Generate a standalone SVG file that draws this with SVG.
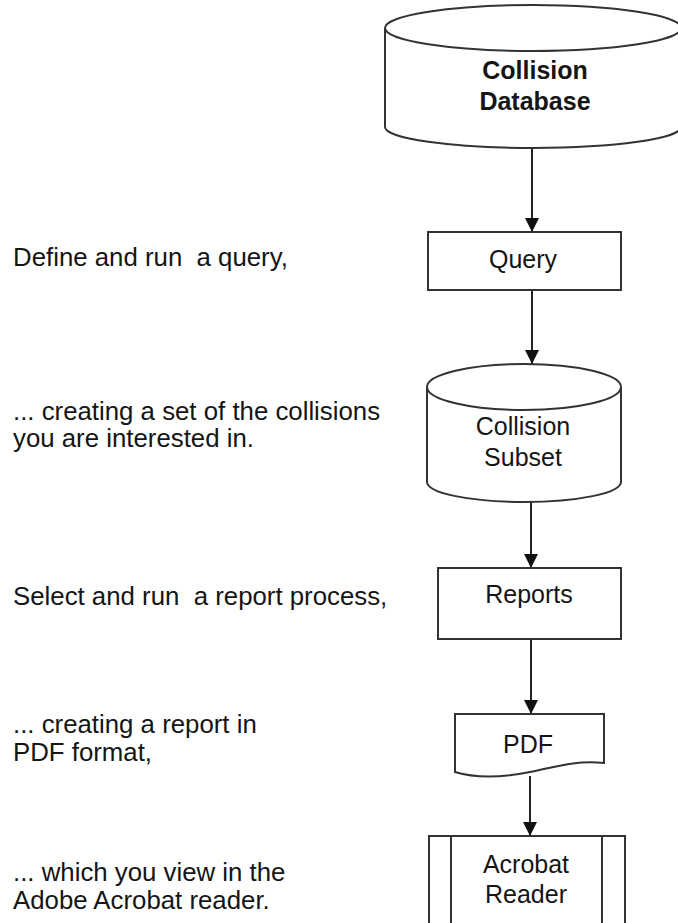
<svg xmlns="http://www.w3.org/2000/svg" width="678" height="923" viewBox="0 0 678 923">
  <style>
    .shape { fill: #ffffff; stroke: #333333; stroke-width: 2; }
    .edge { fill: none; stroke: #222222; stroke-width: 2; }
    .lbl { font-family: "Liberation Sans", Arial, sans-serif; font-size: 25px; fill: #151515; }
    .note { font-size: 25.8px; }
    .mid { text-anchor: middle; }
    .bold { font-weight: bold; }
  </style>
  <defs>
    <marker id="arrow" viewBox="0 0 14 15" refX="14" refY="7" markerWidth="14" markerHeight="15" markerUnits="userSpaceOnUse" orient="auto">
      <path d="M0,0 L14,7 L0,14 Z" fill="#111111"/>
    </marker>
  </defs>
  <rect width="678" height="923" fill="#ffffff"/>

  <!-- step descriptions -->
  <g id="notes" class="lbl note">
    <text x="13" y="266" xml:space="preserve">Define and run  a query,</text>
    <text x="13" y="420">... creating a set of the collisions</text>
    <text x="13" y="447">you are interested in.</text>
    <text x="13" y="605" xml:space="preserve">Select and run  a report process,</text>
    <text x="13" y="733">... creating a report in</text>
    <text x="13" y="761">PDF format,</text>
    <text x="13" y="881">... which you view in the</text>
    <text x="13" y="909">Adobe Acrobat reader.</text>
  </g>

  <!-- connectors -->
  <g id="connectors">
    <line class="edge" x1="532" y1="148" x2="532" y2="232" marker-end="url(#arrow)"/>
    <line class="edge" x1="532" y1="290" x2="532" y2="364" marker-end="url(#arrow)"/>
    <line class="edge" x1="531" y1="502" x2="531" y2="568" marker-end="url(#arrow)"/>
    <line class="edge" x1="531" y1="639" x2="531" y2="714" marker-end="url(#arrow)"/>
    <line class="edge" x1="530" y1="776" x2="530" y2="836" marker-end="url(#arrow)"/>
  </g>

  <!-- main database -->
  <g id="collision-database">
    <path class="shape" d="M385,28 V127 A148,21 0 0 0 681,127 V28"/>
    <ellipse class="shape" cx="533" cy="28" rx="148" ry="23"/>
    <text class="lbl mid bold" x="535" y="79">Collision</text>
    <text class="lbl mid bold" x="535" y="110">Database</text>
  </g>

  <!-- query process -->
  <g id="query">
    <rect class="shape" x="428" y="232" width="193" height="58"/>
    <text class="lbl mid" x="523" y="268">Query</text>
  </g>

  <!-- query result store -->
  <g id="collision-subset">
    <path class="shape" d="M427,387 V482 A97,20 0 0 0 621,482 V387"/>
    <ellipse class="shape" cx="524" cy="387" rx="97" ry="23"/>
    <text class="lbl mid" x="523" y="435">Collision</text>
    <text class="lbl mid" x="523" y="466">Subset</text>
  </g>

  <!-- report process -->
  <g id="reports">
    <rect class="shape" x="438" y="568" width="183" height="71"/>
    <text class="lbl mid" x="529" y="603">Reports</text>
  </g>

  <!-- generated document -->
  <g id="pdf">
    <path class="shape" d="M455,714 H604 V763 C575,760 555,767 530,772 C505,777 478,779 455,772 Z"/>
    <text class="lbl mid" x="528" y="753">PDF</text>
  </g>

  <!-- viewer (predefined process) -->
  <g id="acrobat-reader">
    <rect class="shape" x="429" y="836" width="196" height="100"/>
    <line class="shape" x1="451" y1="836" x2="451" y2="936"/>
    <line class="shape" x1="602" y1="836" x2="602" y2="936"/>
    <text class="lbl mid" x="526" y="873">Acrobat</text>
    <text class="lbl mid" x="526" y="903">Reader</text>
  </g>
</svg>
